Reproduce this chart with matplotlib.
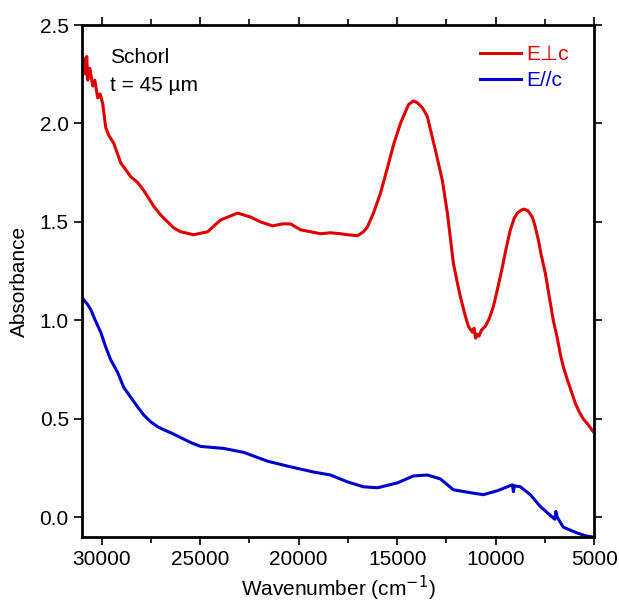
import numpy as np
import matplotlib.pyplot as plt
from matplotlib.ticker import MultipleLocator

plt.rcParams['font.family'] = ['Liberation Sans', 'DejaVu Sans']

# E perp c (red)
wn_perp = [30963, 30880, 30811, 30760, 30710, 30600, 30456, 30350, 30203, 30080, 29949,
           29797, 29645, 29391, 29036, 28783, 28529, 28174, 27870, 27617, 27363,
           27008, 26653, 26349, 25994, 25335, 24625,
           23965, 23103, 22444, 21937, 21329, 20821, 20416, 19909, 19402, 18895,
           18387, 17880, 17525, 17018, 16714, 16511, 16207, 15852, 15497, 15193,
           14838, 14584, 14432, 14179, 13976, 13722, 13469, 13317, 13063, 12708,
           12454, 12150, 11947, 11795, 11592, 11389, 11187, 11100, 11020, 10933,
           10850, 10730, 10527, 10325, 10121, 9919, 9665, 9462, 9259, 9057, 8904,
           8702, 8549, 8347, 8144, 7992, 7839, 7688, 7484, 7282, 7079, 6876, 6724,
           6572, 6369, 6166, 5963, 5761, 5557, 5304, 5050]
abs_perp = [2.28, 2.33, 2.25, 2.34, 2.22, 2.28, 2.19, 2.22, 2.13, 2.15, 2.10,
            1.98, 1.94, 1.90, 1.80, 1.765, 1.73, 1.70, 1.66, 1.62, 1.58,
            1.535, 1.50, 1.47, 1.45, 1.435, 1.45,
            1.51, 1.545, 1.525, 1.50, 1.48, 1.49, 1.49, 1.46, 1.45, 1.44,
            1.445, 1.44, 1.435, 1.43, 1.45, 1.475, 1.545, 1.645, 1.775, 1.89,
            2.00, 2.06, 2.095, 2.115, 2.105, 2.08, 2.035, 1.97, 1.865, 1.71,
            1.545, 1.29, 1.19, 1.12, 1.04, 0.97, 0.94, 0.96, 0.91, 0.93,
            0.92, 0.95, 0.97, 1.01, 1.07, 1.155, 1.27, 1.37, 1.46, 1.52, 1.545,
            1.56, 1.565, 1.555, 1.525, 1.475, 1.41, 1.33, 1.24, 1.12, 1.00, 0.91, 0.83,
            0.765, 0.70, 0.64, 0.58, 0.535, 0.50, 0.47, 0.435]

# E // c (blue)
wn_par = [30913, 30710, 30558, 30304, 30051, 29797, 29544, 29189, 28884, 28529,
          28174, 27870, 27515, 27160, 26856, 26400, 25994, 25487, 24980,
          23813, 22799, 21582, 20568, 19250, 18387, 17525, 16714, 16004, 14990,
          14179, 13469, 12810, 12150, 11288, 10629, 9919, 9158, 9100, 9050, 8752,
          8245, 7738, 7231, 7000, 6950, 6876, 6572, 5862, 5400, 5050]
abs_par = [1.105, 1.08, 1.055, 0.995, 0.94, 0.865, 0.80, 0.735, 0.66, 0.61,
           0.56, 0.52, 0.485, 0.46, 0.445, 0.425, 0.405, 0.38, 0.36,
           0.35, 0.33, 0.285, 0.26, 0.23, 0.215, 0.18, 0.155, 0.15, 0.175,
           0.21, 0.215, 0.195, 0.14, 0.125, 0.115, 0.135, 0.165, 0.13, 0.16, 0.155,
           0.115, 0.055, 0.01, -0.01, 0.03, 0.0, -0.05, -0.08, -0.095, -0.1]

fig = plt.figure(figsize=(6.19, 6.07), dpi=100)
ax = fig.add_axes([0.1325, 0.1153, 0.8275, 0.8435])

ax.plot(wn_perp, abs_perp, color='#DD0000', lw=2.2, label='E\u22a5c')
ax.plot(wn_par, abs_par, color='#0000CC', lw=2.2, label='E//c')

ax.set_xlim(31000, 5000)
ax.set_ylim(-0.1, 2.5)
ax.xaxis.set_major_locator(MultipleLocator(5000))
ax.xaxis.set_minor_locator(MultipleLocator(2500))
ax.yaxis.set_major_locator(MultipleLocator(0.5))
ax.yaxis.set_major_formatter(plt.FormatStrFormatter('%.1f'))

ax.tick_params(which='both', direction='out', top=True, right=True,
               labeltop=False, labelright=False, labelsize=15, width=1.2)
ax.tick_params(which='major', length=6)
ax.tick_params(which='minor', length=4)
for sp in ax.spines.values():
    sp.set_linewidth(2)

ax.set_xlabel('Wavenumber (cm$^{-1}$)', fontsize=15, labelpad=3)
ax.set_ylabel('Absorbance', fontsize=15, labelpad=8)

ax.text(0.055, 0.955, 'Schorl', transform=ax.transAxes, fontsize=15, va='top')
ax.text(0.055, 0.90, 't = 45 \u00b5m', transform=ax.transAxes, fontsize=15, va='top')

leg = ax.legend(loc='upper right', frameon=False, fontsize=15, handlelength=2,
                labelcolor='linecolor', bbox_to_anchor=(0.975, 0.985),
                handletextpad=0.25, labelspacing=0.35, borderaxespad=0.2)

fig.savefig('out.png', dpi=100)
